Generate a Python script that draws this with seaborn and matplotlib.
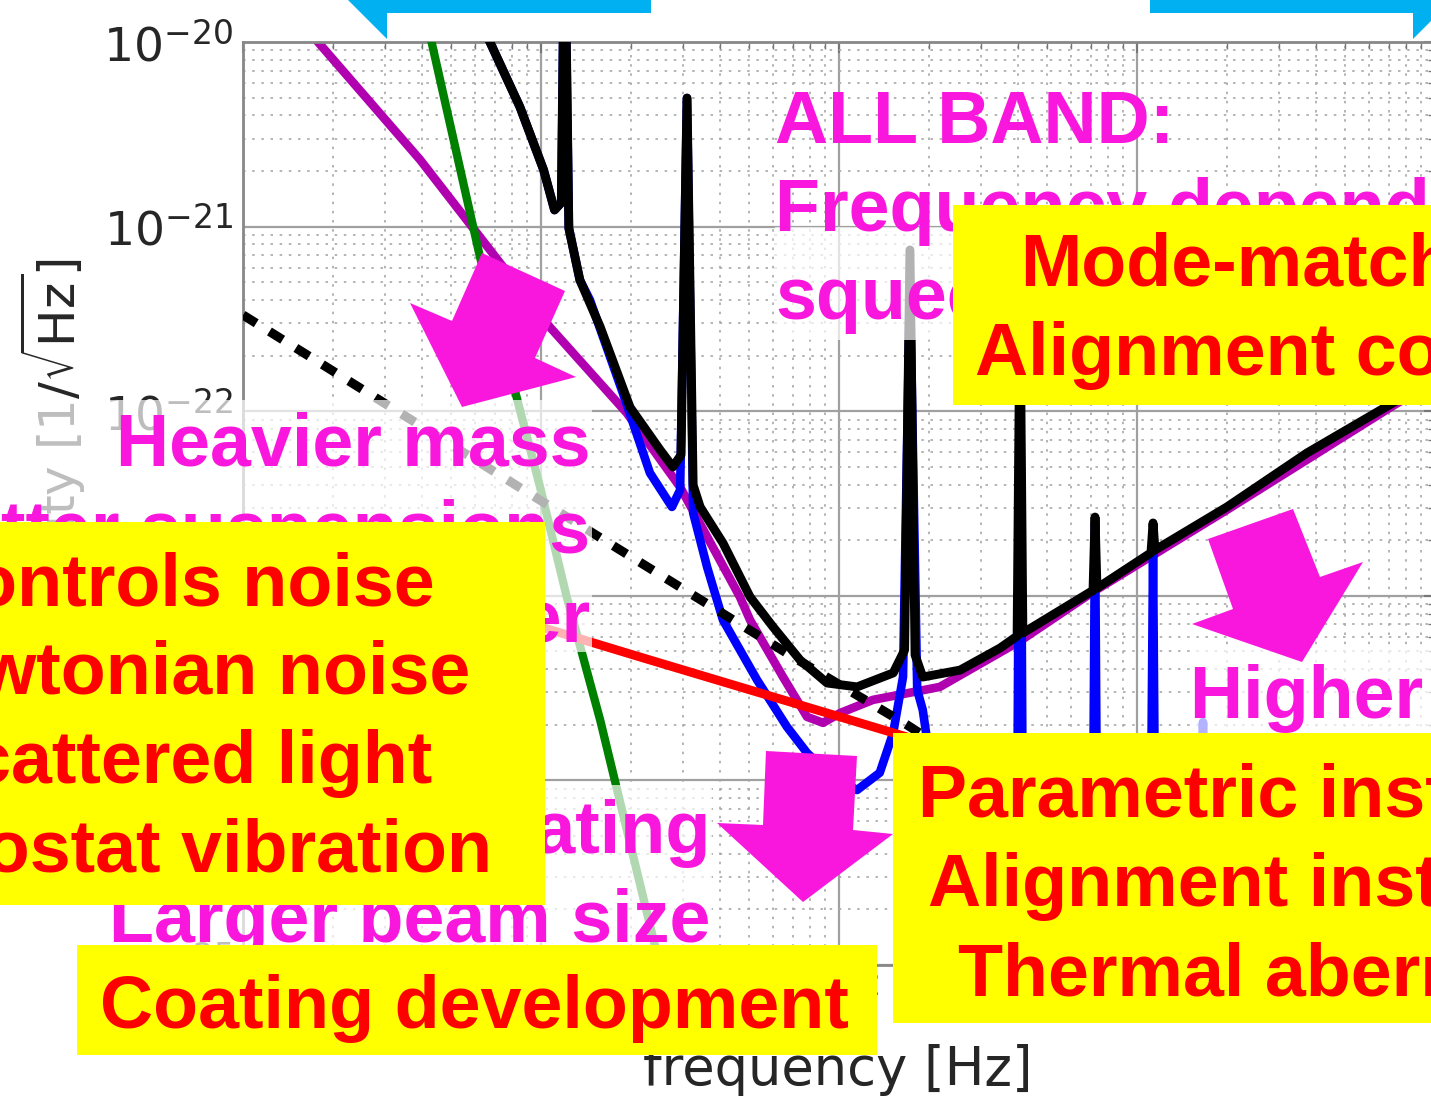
import matplotlib
matplotlib.use('Agg')
import matplotlib.pyplot as plt
import seaborn as sns
from matplotlib.patches import Rectangle, Polygon

# Noise curves: frequency [Hz] and strain ASD [1/sqrt(Hz)]
freq_total = [6.0, 8.5, 10.2, 11.1, 11.7, 12.0, 12.4, 13.5, 15.8, 19.9, 25.1, 27.7, 29.5, 30.9,
              32.4, 34.2, 40.8, 50.3, 60.1, 74.0, 91.2, 115, 152, 166, 173, 180, 191, 255, 347,
              396, 405, 414, 712, 723, 734, 1114, 1132, 1149, 2004, 3719, 7228, 10400]
asd_total = [1.5e-20, 4.44e-21, 2.03e-21, 1.23e-21, 1.35e-21, 5e-20, 9.8e-22, 5.14e-22, 2.86e-22,
             1.05e-22, 6.17e-23, 4.99e-23, 5.79e-23, 4.97e-21, 3.98e-23, 3.03e-23, 1.93e-23,
             9.86e-24, 6.78e-24, 4.49e-24, 3.37e-24, 3.21e-24, 3.82e-24, 5.08e-24, 7.47e-22,
             4.78e-24, 3.63e-24, 3.96e-24, 5.21e-24, 6.05e-24, 4.0e-22, 6.29e-24, 1.07e-23,
             2.67e-23, 1.10e-23, 1.71e-23, 2.48e-23, 1.77e-23, 3.03e-23, 5.94e-23, 1.11e-22, 1.57e-22]

freq_upgrade = [6.0, 8.5, 10.2, 11.1, 11.7, 12.0, 12.4, 13.5, 14.6, 18.8, 23.2, 27.5, 29.3, 30.9,
                32.4, 36.1, 40.8, 53.1, 66.9, 78.1, 93.3, 115, 137, 152, 164, 173, 183, 191, 202,
                347, 396, 405, 414, 712, 723, 734, 1114, 1132, 1149, 1640, 1665, 1690, 3524, 10400]
asd_upgrade = [1.5e-20, 4.44e-21, 2.03e-21, 1.23e-21, 1.35e-21, 5e-20, 9.8e-22, 5.14e-22, 4.0e-22,
               1.26e-22, 4.63e-23, 3.03e-23, 3.74e-23, 4.97e-21, 2.81e-23, 1.43e-23, 7.39e-24,
               3.50e-24, 1.95e-24, 1.41e-24, 1.07e-24, 8.87e-25, 1.10e-24, 1.81e-24, 3.63e-24,
               5e-22, 3.09e-24, 2.41e-24, 1.29e-24, 4.2e-25, 4.8e-25, 3.5e-22, 4.8e-25, 6.1e-25,
               2.48e-23, 6.1e-25, 6.9e-25, 1.71e-23, 6.9e-25, 7.8e-25, 2.07e-24, 7.8e-25, 8.9e-25, 1.29e-24]

freq_quantum = [1.55, 3.93, 7.29, 10.7, 19.4, 29.3, 46.5, 50.3, 64.9, 78.1, 88.4, 101, 130, 218,
                405, 712, 2004, 7228, 10400]
asd_quantum = [1.3e-20, 2.30e-21, 6.35e-22, 2.86e-22, 9.78e-23, 3.88e-23, 9.86e-24, 7.39e-24,
               3.63e-24, 2.21e-24, 2.05e-24, 2.32e-24, 2.73e-24, 3.21e-24, 5.69e-24, 1.05e-23,
               2.92e-23, 1.07e-22, 1.51e-22]

freq_seismic = [4.08, 6.24, 9.93, 12.2, 15.8, 24.1, 26.1]
asd_seismic = [1.44e-20, 6.85e-22, 3.88e-23, 9.86e-24, 2.12e-24, 1.28e-25, 8.3e-26]

freq_coating = [3.4, 21.5, 152, 347]
asd_coating = [1.15e-23, 4.66e-24, 1.81e-24, 1.21e-24]

freq_susp = [1.0, 14.9, 70.1, 169, 751]
asd_susp = [3.32e-22, 2.19e-23, 4.66e-24, 2.0e-24, 4.2e-25]

ytick_vals = [1e-25, 1e-24, 1e-23, 1e-22, 1e-21, 1e-20]
ytick_labels = ['$10^{-25}$', '$10^{-24}$', '$10^{-23}$', '$10^{-22}$', '$10^{-21}$', '$10^{-20}$']
xtick_vals = [1, 10, 100, 1000, 10000]
xtick_labels = ['$10^{0}$', '$10^{1}$', '$10^{2}$', '$10^{3}$', '$10^{4}$']

# Slide annotations laid over the plot
magenta_notes = ['ALL BAND:', 'Frequency dependent', 'squeezing',
                 'Heavier mass', 'Better suspensions', 'Cooler',
                 'Low loss coating', 'Larger beam size', 'Higher power']
red_notes = ['Controls noise', 'Newtonian noise', 'Scattered light', 'Cryostat vibration',
             'Coating development', 'Mode-matching', 'Alignment control',
             'Parametric instability', 'Alignment instability', 'Thermal aberration']

# layout (pixels of the 1431x1099 picture)
W, H = 1431, 1099
magenta_pos = [(775, 143, 'left'), (775, 231, 'left'), (775, 319, 'left'),
               (590, 465, 'right'), (590, 553, 'right'), (590, 641, 'right'),
               (710, 853, 'right'), (710, 942, 'right'), (1190, 718, 'left')]
red_pos = [(435, 605, 'right'), (470, 694, 'right'), (432, 783, 'right'), (492, 872, 'right'),
           (100, 1028, 'left'), (1020, 286, 'left'), (975, 375, 'left'),
           (918, 817, 'left'), (928, 906, 'left'), (958, 995, 'left')]
white_boxes = [(0, 400, 592, 652), (0, 785, 712, 948), (775, 227, 953, 340), (1190, 650, 1431, 733)]
yellow_boxes = [(0, 522, 545, 905), (77, 945, 877, 1055), (893, 733, 1431, 1023), (953, 205, 1431, 405)]
arrows = [[(482, 253), (565, 291), (535, 358), (576, 377), (462, 407), (410, 303), (452, 321)],
          [(766, 751), (857, 756), (853, 830), (893, 834), (803, 902), (717, 823), (763, 825)],
          [(1208, 539), (1293, 509), (1320, 577), (1363, 562), (1302, 662), (1192, 624), (1233, 609)]]
cyan_arrows = [[(348, 0), (651, 0), (651, 13), (387, 13), (387, 39)],
               [(1150, 0), (1452, 0), (1413, 39), (1413, 13), (1150, 13)]]

MAGENTA = '#F916DD'

sns.set_style('white')
plt.rcParams['font.family'] = ['DejaVu Sans']

fig = plt.figure(figsize=(W / 100, H / 100), dpi=100)
ax = fig.add_axes([243 / W, 1 - 965 / H, 1192 / W, 923 / H])

line_kw = dict(ax=ax, estimator=None, sort=False, solid_capstyle='round', solid_joinstyle='round')
sns.lineplot(x=freq_quantum, y=asd_quantum, color='#B000B0', linewidth=6.2, zorder=2, **line_kw)
sns.lineplot(x=freq_seismic, y=asd_seismic, color='#008000', linewidth=6.0, zorder=3, **line_kw)
sns.lineplot(x=freq_upgrade, y=asd_upgrade, color='#0000FF', linewidth=6.2, zorder=4, **line_kw)
sns.lineplot(x=freq_coating, y=asd_coating, color='#FF0000', linewidth=6.4, zorder=5, **line_kw)
sns.lineplot(x=freq_susp, y=asd_susp, ax=ax, estimator=None, sort=False, color='black',
             linewidth=6.6, linestyle=(0, (1.7, 1.7)), zorder=6)
sns.lineplot(x=freq_total, y=asd_total, color='black', linewidth=6.4, zorder=7, **line_kw)

ax.set_xscale('log')
ax.set_yscale('log')
ax.set_xlim(1, 1e4)
ax.set_ylim(1e-25, 1e-20)
ax.set_xticks(xtick_vals)
ax.set_xticklabels(xtick_labels, fontsize=34)
ax.set_yticks(ytick_vals)
ax.set_yticklabels(ytick_labels, fontsize=34)

ax.grid(which='major', color='#a0a0a0', lw=1.6, ls='-')
ax.grid(which='minor', color='#a8a8a8', lw=1.2, ls=(0, (1.5, 4)))
ax.tick_params(which='both', direction='in', top=True, right=True, color='#777777')
ax.tick_params(which='major', length=8, width=1.5, pad=7)
ax.tick_params(which='minor', length=5, width=1.0)
for sp in ax.spines.values():
    sp.set_color('#888888')
    sp.set_linewidth(2)

ax.set_xlabel('frequency [Hz]', fontsize=38)
ax.xaxis.set_label_coords(0.499, (965 - 1044) / 923)
ax.set_ylabel(r'Sensitivity [1/$\sqrt{\mathrm{Hz}}$]', fontsize=36)
ax.yaxis.set_label_coords((87 - 243) / 1192, (965 - 492) / 923)

# overlay in picture pixels for the slide boxes, arrows and notes
ov = fig.add_axes([0, 0, 1, 1], zorder=5)
ov.set_xlim(0, W)
ov.set_ylim(H, 0)
ov.axis('off')
ov.patch.set_visible(False)

for x0, y0, x1, y1 in white_boxes:
    ov.add_patch(Rectangle((x0, y0), x1 - x0, y1 - y0, facecolor='white', alpha=0.7,
                           edgecolor='none', zorder=1))
for txt, (x, y, ha) in zip(magenta_notes, magenta_pos):
    ov.text(x, y, txt, color=MAGENTA, fontsize=53, fontweight='bold', family='Liberation Sans',
            ha=ha, va='baseline', zorder=2)
for pts in arrows:
    ov.add_patch(Polygon(pts, closed=True, facecolor=MAGENTA, edgecolor='none', zorder=3))
for x0, y0, x1, y1 in yellow_boxes:
    ov.add_patch(Rectangle((x0, y0), x1 - x0, y1 - y0, facecolor='#FFFF00', edgecolor='none', zorder=4))
for txt, (x, y, ha) in zip(red_notes, red_pos):
    ov.text(x, y, txt, color='#FF0000', fontsize=53, fontweight='bold', family='Liberation Sans',
            ha=ha, va='baseline', zorder=5)
for pts in cyan_arrows:
    ov.add_patch(Polygon(pts, closed=True, facecolor='#00B0F0', edgecolor='none', zorder=6))

fig.savefig('out.png', dpi=100)
